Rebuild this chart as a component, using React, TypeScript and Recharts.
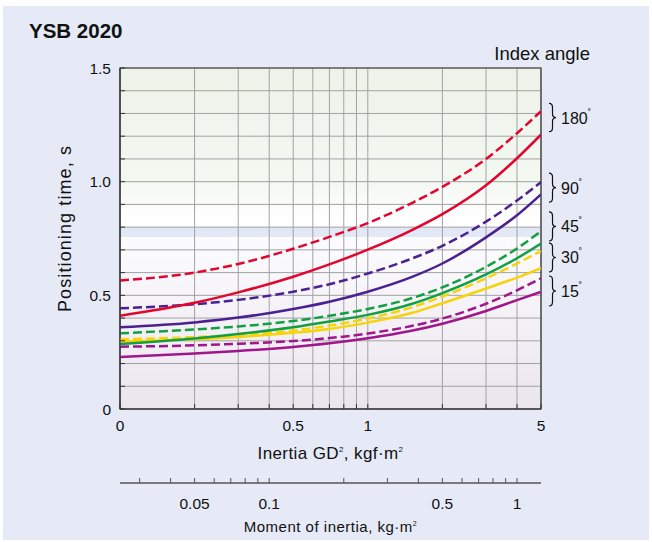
import React from 'react';
import { LineChart, Line, XAxis, YAxis, CartesianGrid, ReferenceArea, Label } from 'recharts';

const inertia = [0.1, 0.2, 0.3, 0.5, 0.7, 1, 1.5, 2, 3, 4, 5];

// positioning time, s — dashed and solid curve for each index angle
const deg180Dashed = [0.565, 0.6, 0.638, 0.705, 0.757, 0.818, 0.905, 0.977, 1.1, 1.213, 1.31];
const deg180Solid = [0.41, 0.467, 0.513, 0.582, 0.636, 0.701, 0.786, 0.857, 0.984, 1.103, 1.207];
const deg90Dashed = [0.443, 0.461, 0.48, 0.516, 0.549, 0.596, 0.661, 0.718, 0.824, 0.917, 0.998];
const deg90Solid = [0.36, 0.381, 0.402, 0.44, 0.472, 0.516, 0.58, 0.64, 0.755, 0.852, 0.944];
const deg45Dashed = [0.333, 0.35, 0.363, 0.387, 0.41, 0.44, 0.487, 0.535, 0.625, 0.706, 0.782];
const deg45Solid = [0.286, 0.31, 0.33, 0.36, 0.385, 0.414, 0.462, 0.51, 0.592, 0.663, 0.728];
const deg30Dashed = [0.307, 0.316, 0.326, 0.345, 0.367, 0.398, 0.447, 0.495, 0.575, 0.64, 0.695];
const deg30Solid = [0.297, 0.307, 0.317, 0.335, 0.352, 0.38, 0.422, 0.465, 0.53, 0.578, 0.62];
const deg15Dashed = [0.274, 0.28, 0.287, 0.299, 0.312, 0.332, 0.365, 0.398, 0.463, 0.522, 0.575];
const deg15Solid = [0.229, 0.244, 0.255, 0.273, 0.289, 0.311, 0.344, 0.375, 0.431, 0.479, 0.515];

// axis ticks
const gdTicks = [0.1, 0.2, 0.3, 0.4, 0.5, 0.6, 0.7, 0.8, 0.9, 1, 2, 3, 4, 5];
const gdLabels = [0.5, 1, 5];
const timeTicks = [0, 0.1, 0.2, 0.3, 0.4, 0.5, 0.6, 0.7, 0.8, 0.9, 1, 1.1, 1.2, 1.3, 1.4, 1.5];
const timeLabels = [0.5, 1, 1.5];
const kgTicks = [0.03, 0.04, 0.05, 0.06, 0.07, 0.08, 0.09, 0.1, 0.2, 0.3, 0.4, 0.5, 0.6, 0.7, 0.8, 0.9, 1];
const kgLabels = [0.05, 0.1, 0.5, 1];

// index angle annotations (brace spans, in seconds)
const angleLabels = ['180', '90', '45', '30', '15'];
const braceTop = [1.344, 1.038, 0.867, 0.73, 0.585];
const braceBottom = [1.22, 0.91, 0.739, 0.603, 0.453];

const RED = '#e4052f';
const INDIGO = '#4b2192';
const GREEN = '#11a041';
const YELLOW = '#f7d30c';
const MAGENTA = '#a0168b';

const series = [
  { key: 'd15s', values: deg15Solid, color: MAGENTA, dashed: false },
  { key: 'd15d', values: deg15Dashed, color: MAGENTA, dashed: true },
  { key: 'd30s', values: deg30Solid, color: YELLOW, dashed: false },
  { key: 'd30d', values: deg30Dashed, color: YELLOW, dashed: true },
  { key: 'd45s', values: deg45Solid, color: GREEN, dashed: false },
  { key: 'd45d', values: deg45Dashed, color: GREEN, dashed: true },
  { key: 'd90s', values: deg90Solid, color: INDIGO, dashed: false },
  { key: 'd90d', values: deg90Dashed, color: INDIGO, dashed: true },
  { key: 'd180s', values: deg180Solid, color: RED, dashed: false },
  { key: 'd180d', values: deg180Dashed, color: RED, dashed: true },
];

// GD² = 4 × moment of inertia, so the lower axis is the same scale divided by 4
const rows = inertia.map((x, i) => {
  const row: Record<string, number> = { x, kg: x / 4 };
  series.forEach((s) => {
    row[s.key] = s.values[i];
  });
  return row;
});

const FONT = "'Liberation Sans', Arial, Helvetica, sans-serif";
const W = 646;
const H = 534;
const MARGIN = { top: 62, right: 108, bottom: 0, left: 57 };
const Y_AXIS_W = 60;
const GD_AXIS_H = 74;
const KG_AXIS_H = 57;
const PLOT_H = H - MARGIN.top - MARGIN.bottom - GD_AXIS_H - KG_AXIS_H;
const Y_MAX = 1.5;

const yOf = (v: number) => MARGIN.top + ((Y_MAX - v) / Y_MAX) * PLOT_H;

function bracePath(x: number, y1: number, y2: number, w: number) {
  const xm = x + w * 0.5;
  const ym = (y1 + y2) / 2;
  const r = 4;
  return `M${x},${y1} Q${xm},${y1} ${xm},${y1 + r} L${xm},${ym - r} Q${xm},${ym} ${x + w},${ym} Q${xm},${ym} ${xm},${ym + r} L${xm},${y2 - r} Q${xm},${y2} ${x},${y2}`;
}

// axis titles with small superscripts
function GdTitle(props: any) {
  const vb = props.viewBox;
  return (
    <text
      x={vb.x + vb.width / 2}
      y={vb.y + 50}
      textAnchor="middle"
      fontSize={17}
      letterSpacing={0.4}
      fill="#111"
      fontFamily={FONT}
    >
      Inertia GD
      <tspan dy={-7} fontSize={8}>2</tspan>
      <tspan dy={7}>, kgf·m</tspan>
      <tspan dy={-7} fontSize={8}>2</tspan>
    </text>
  );
}

function KgTitle(props: any) {
  const vb = props.viewBox;
  return (
    <text
      x={vb.x + vb.width / 2}
      y={vb.y + 49}
      textAnchor="middle"
      fontSize={15}
      letterSpacing={0.5}
      fill="#111"
      fontFamily={FONT}
    >
      Moment of inertia, kg·m
      <tspan dy={-6} fontSize={7}>2</tspan>
    </text>
  );
}

function TimeTitle(props: any) {
  const vb = props.viewBox;
  const x = vb.x + 11;
  const y = vb.y + vb.height / 2 - 10;
  return (
    <text
      x={x}
      y={y}
      transform={`rotate(-90, ${x}, ${y})`}
      textAnchor="middle"
      fontSize={18}
      letterSpacing={1.1}
      fill="#111"
      fontFamily={FONT}
    >
      Positioning time, s
    </text>
  );
}

export default function App() {
  const tickStyle = { fill: '#111', fontSize: 15.5, fontFamily: FONT };
  return (
    <div
      style={{
        position: 'absolute',
        left: 3,
        top: 6,
        width: W,
        height: H,
        background: '#e5eaf6',
        fontFamily: FONT,
      }}
    >
      <LineChart width={W} height={H} data={rows} margin={MARGIN}>
        <defs>
          <linearGradient id="plotBg" x1="0" y1="0" x2="0" y2="1">
            <stop offset="0" stopColor="#edf3e9" />
            <stop offset="0.33" stopColor="#f3f8f1" />
            <stop offset="0.44" stopColor="#ffffff" />
            <stop offset="0.4667" stopColor="#ffffff" />
            <stop offset="0.4667" stopColor="#e2e8f5" />
            <stop offset="0.497" stopColor="#e2e8f5" />
            <stop offset="0.497" stopColor="#fcfcfe" />
            <stop offset="1" stopColor="#ebe5ee" />
          </linearGradient>
        </defs>
        <CartesianGrid stroke="#a2a2a2" strokeWidth={1} fill="url(#plotBg)" fillOpacity={1} />
        <XAxis
          dataKey="x"
          type="number"
          scale="log"
          domain={[0.1, 5]}
          allowDataOverflow
          ticks={gdTicks}
          interval={0}
          height={GD_AXIS_H}
          tickFormatter={(v: number) => (v === 0.1 ? '0' : gdLabels.includes(v) ? String(v) : '')}
          tick={tickStyle}
          tickSize={-5}
          tickMargin={16}
          axisLine={{ stroke: '#333' }}
          tickLine={{ stroke: '#333' }}
          label={<Label content={GdTitle} />}
        />
        <XAxis
          xAxisId="kg"
          dataKey="kg"
          type="number"
          scale="log"
          domain={[0.025, 1.25]}
          allowDataOverflow
          ticks={kgTicks}
          interval={0}
          height={KG_AXIS_H}
          tickFormatter={(v: number) => (kgLabels.includes(v) ? String(v) : '')}
          tick={tickStyle}
          tickSize={-5}
          tickMargin={20}
          axisLine={{ stroke: '#555', strokeWidth: 1.5 }}
          tickLine={{ stroke: '#555' }}
          label={<Label content={KgTitle} />}
        />
        <YAxis
          type="number"
          domain={[0, Y_MAX]}
          ticks={timeTicks}
          interval={0}
          width={Y_AXIS_W}
          tickFormatter={(v: number) => (v === 0 ? '0' : timeLabels.includes(v) ? v.toFixed(1) : '')}
          tick={tickStyle}
          tickSize={-5}
          tickMargin={14}
          axisLine={{ stroke: '#333' }}
          tickLine={{ stroke: '#333' }}
          label={<Label content={TimeTitle} />}
        />
        {/* carrier for the moment-of-inertia axis, not drawn */}
        <Line
          xAxisId="kg"
          dataKey="d15s"
          stroke="none"
          dot={false}
          activeDot={false}
          legendType="none"
          isAnimationActive={false}
        />
        {series.map((s) => (
          <Line
            key={s.key}
            dataKey={s.key}
            type="monotone"
            stroke={s.color}
            strokeWidth={2.5}
            strokeDasharray={s.dashed ? '9 4' : undefined}
            dot={false}
            activeDot={false}
            isAnimationActive={false}
          />
        ))}
        <ReferenceArea x1={0.1} x2={5} y1={0} y2={Y_MAX} fill="none" stroke="#333" strokeWidth={1.2} />
      </LineChart>

      <svg width={W} height={H} style={{ position: 'absolute', left: 0, top: 0, pointerEvents: 'none' }}>
        <text x={26} y={32} fontSize={20.5} fontWeight="bold" fill="#111" fontFamily={FONT}>
          YSB 2020
        </text>
        <text x={587} y={54} fontSize={18.5} textAnchor="end" fill="#111" fontFamily={FONT}>
          Index angle
        </text>
        {angleLabels.map((lab, i) => {
          const y1 = yOf(braceTop[i]);
          const y2 = yOf(braceBottom[i]);
          return (
            <g key={lab}>
              <path d={bracePath(546, y1, y2, 7)} fill="none" stroke="#111" strokeWidth={1.2} />
              <text x={558} y={(y1 + y2) / 2 + 6} fontSize={16} fill="#111" fontFamily={FONT}>
                {lab}
                <tspan dy={-7} fontSize={10}>˚</tspan>
              </text>
            </g>
          );
        })}
      </svg>
    </div>
  );
}
